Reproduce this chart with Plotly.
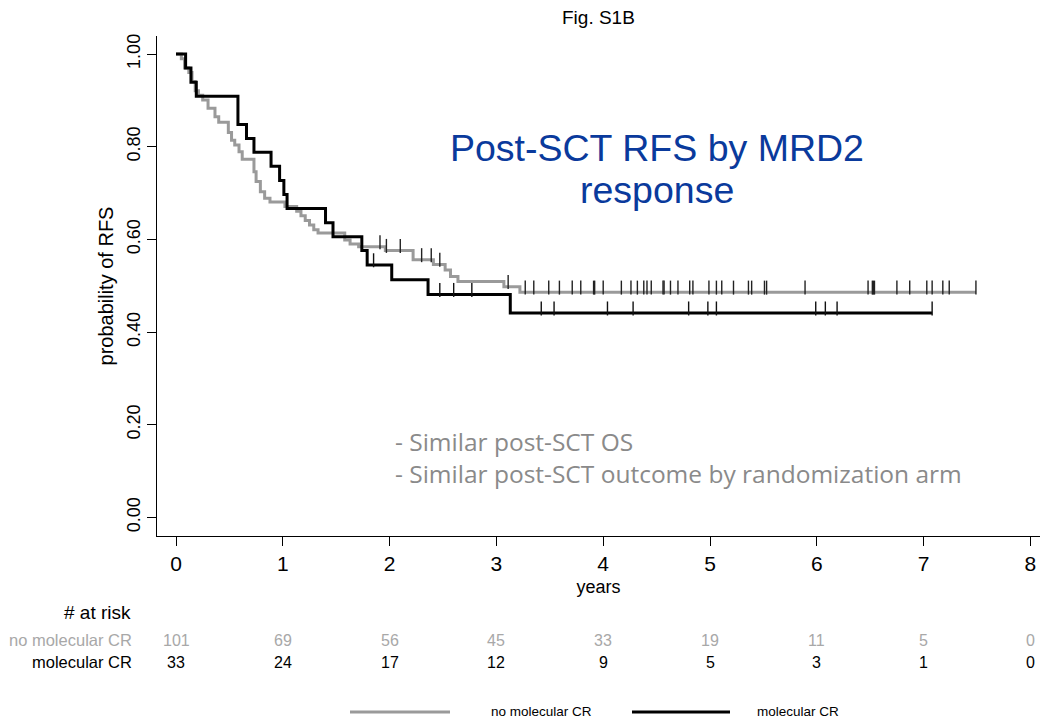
import bisect
import plotly.graph_objects as go

# ---------------- data ----------------
year_ticks = [0, 1, 2, 3, 4, 5, 6, 7, 8]
prob_ticks = [0.0, 0.2, 0.4, 0.6, 0.8, 1.0]

risk_no_mcr = [101, 69, 56, 45, 33, 19, 11, 5, 0]
risk_mcr = [33, 24, 17, 12, 9, 5, 3, 1, 0]

# no molecular CR (grey) : step times and survival after each step
gray_t = [0, 0.05, 0.08, 0.12, 0.15, 0.18, 0.21, 0.25, 0.30, 0.365, 0.40, 0.49, 0.52,
          0.55, 0.59, 0.62, 0.73, 0.75, 0.79, 0.83, 0.88, 1.02, 1.13, 1.17, 1.21, 1.25,
          1.29, 1.33, 1.58, 1.63, 1.71, 1.96, 2.22, 2.41, 2.52, 2.57, 2.64, 3.07, 3.22, 7.49]
gray_s = [1.0, 0.990, 0.970, 0.960, 0.941, 0.921, 0.911, 0.901, 0.883, 0.865, 0.853, 0.831,
          0.814, 0.804, 0.789, 0.773, 0.746, 0.725, 0.703, 0.689, 0.681, 0.671, 0.661, 0.651,
          0.641, 0.631, 0.621, 0.614, 0.599, 0.590, 0.584, 0.576, 0.556, 0.546, 0.534, 0.520,
          0.509, 0.498, 0.486, 0.486]
gray_cens = [1.91, 1.97, 2.10, 2.30, 2.39, 2.47, 3.11, 3.27, 3.35, 3.49, 3.59, 3.71, 3.79,
             3.91, 3.92, 4.00, 4.17, 4.26, 4.32, 4.38, 4.41, 4.45, 4.56, 4.57, 4.63, 4.70,
             4.81, 4.84, 4.99, 5.06, 5.11, 5.22, 5.36, 5.39, 5.51, 5.53, 5.89, 6.48, 6.52,
             6.53, 6.54, 6.75, 6.87, 7.03, 7.08, 7.18, 7.24, 7.49]

# molecular CR (black)
black_t = [0, 0.09, 0.14, 0.19, 0.58, 0.66, 0.73, 0.89, 0.97, 1.01, 1.04, 1.40, 1.47,
           1.74, 1.79, 2.02, 2.36, 3.13, 7.08]
black_s = [1.0, 0.970, 0.939, 0.909, 0.848, 0.818, 0.788, 0.758, 0.727, 0.697, 0.667,
           0.636, 0.606, 0.576, 0.545, 0.513, 0.481, 0.441, 0.441]
black_cens = [1.85, 2.47, 2.60, 2.77, 3.42, 3.54, 4.04, 4.28, 4.80, 4.98, 5.06, 5.99,
              6.08, 6.19, 7.08]

headline = ["Post-SCT RFS by MRD2", "response"]
notes = ["- Similar post-SCT OS", "- Similar post-SCT outcome by randomization arm"]

# ---------------- styling / layout constants ----------------
W, H = 1040, 723
ML, MR, MT, MB = 157, 0, 36, 187
PW, PH = W - ML - MR, H - MT - MB
GRAY = "#9a9a9a"
BLACK = "#000000"
SANS = "Liberation Sans, Arial, Helvetica, sans-serif"
NOTE_FONT = "Open Sans, Noto Sans, sans-serif"
TICK_LIFT = 0.010


def px_x(p):
    return (p - ML) / PW


def px_y(p):
    return (H - MB - p) / PH


def level_at(ts, ss, c):
    i = bisect.bisect_right(ts, c) - 1
    return ss[max(i, 0)]


fig = go.Figure()

fig.add_trace(go.Scatter(x=gray_t, y=gray_s, mode="lines", line=dict(color=GRAY, width=3, shape="hv"),
                         showlegend=False, hoverinfo="skip"))
fig.add_trace(go.Scatter(x=gray_cens, y=[level_at(gray_t, gray_s, c) + TICK_LIFT for c in gray_cens],
                         mode="markers", marker=dict(symbol="line-ns", size=10,
                                                     line=dict(color="#222222", width=1.4)),
                         showlegend=False, hoverinfo="skip"))
fig.add_trace(go.Scatter(x=black_t, y=black_s, mode="lines", line=dict(color=BLACK, width=3, shape="hv"),
                         showlegend=False, hoverinfo="skip"))
fig.add_trace(go.Scatter(x=black_cens, y=[level_at(black_t, black_s, c) + TICK_LIFT for c in black_cens],
                         mode="markers", marker=dict(symbol="line-ns", size=10,
                                                     line=dict(color="#111111", width=1.4)),
                         showlegend=False, hoverinfo="skip"))

annotations = []
# title
annotations.append(dict(text="Fig. S1B", x=px_x(598), y=px_y(18), xref="paper", yref="paper",
                        showarrow=False, font=dict(family=SANS, size=19, color="#000"),
                        xanchor="center", yanchor="middle"))
# blue headline
for txt, yy in zip(headline, [148, 190]):
    annotations.append(dict(text=txt, x=px_x(657), y=px_y(yy), xref="paper", yref="paper",
                            showarrow=False, font=dict(family=SANS, size=37.5, color="#0a3a9c"),
                            xanchor="center", yanchor="middle"))
# grey notes
for txt, yy in zip(notes, [441, 473]):
    annotations.append(dict(text=txt, x=px_x(393), y=px_y(yy), xref="paper", yref="paper",
                            showarrow=False, font=dict(family=NOTE_FONT, size=24.5, color="#8a8a8a"),
                            xanchor="left", yanchor="middle"))
# risk table
annotations.append(dict(text="# at risk", x=px_x(133), y=px_y(612), xref="paper", yref="paper",
                        showarrow=False, font=dict(family=SANS, size=19, color="#000"),
                        xanchor="right", yanchor="middle"))
annotations.append(dict(text="no molecular CR", x=px_x(134), y=px_y(640), xref="paper", yref="paper",
                        showarrow=False, font=dict(family=SANS, size=16.5, color="#a8a8a8"),
                        xanchor="right", yanchor="middle"))
annotations.append(dict(text="molecular CR", x=px_x(134), y=px_y(662), xref="paper", yref="paper",
                        showarrow=False, font=dict(family=SANS, size=16.5, color="#000"),
                        xanchor="right", yanchor="middle"))
for t, a, b in zip(year_ticks, risk_no_mcr, risk_mcr):
    annotations.append(dict(text=str(a), x=t, y=px_y(640), xref="x", yref="paper", showarrow=False,
                            font=dict(family=SANS, size=16, color="#a8a8a8"),
                            xanchor="center", yanchor="middle"))
    annotations.append(dict(text=str(b), x=t, y=px_y(662), xref="x", yref="paper", showarrow=False,
                            font=dict(family=SANS, size=16, color="#000"),
                            xanchor="center", yanchor="middle"))
# legend
annotations.append(dict(text="no molecular CR", x=px_x(489), y=px_y(712), xref="paper", yref="paper",
                        showarrow=False, font=dict(family=SANS, size=13.5, color="#000"),
                        xanchor="left", yanchor="middle"))
annotations.append(dict(text="molecular CR", x=px_x(755), y=px_y(712), xref="paper", yref="paper",
                        showarrow=False, font=dict(family=SANS, size=13.5, color="#000"),
                        xanchor="left", yanchor="middle"))

shapes = [
    dict(type="line", xref="paper", yref="paper", x0=px_x(350), x1=px_x(450), y0=px_y(712), y1=px_y(712),
         line=dict(color=GRAY, width=3)),
    dict(type="line", xref="paper", yref="paper", x0=px_x(632), x1=px_x(730), y0=px_y(712), y1=px_y(712),
         line=dict(color=BLACK, width=3)),
]

fig.update_layout(
    width=W, height=H,
    margin=dict(l=ML, r=MR, t=MT, b=MB, pad=0),
    paper_bgcolor="white", plot_bgcolor="white",
    annotations=annotations, shapes=shapes,
    xaxis=dict(range=[(ML - 176) / 106.8, (W - 176) / 106.8], tickvals=year_ticks,
               ticktext=[str(v) for v in year_ticks], showgrid=False, zeroline=False,
               showline=True, linecolor="#000", linewidth=1.3, ticks="outside", ticklen=9,
               tickwidth=1.2, tickcolor="#000",
               tickfont=dict(family=SANS, size=21, color="#000"),
               title=dict(text="years", font=dict(family=SANS, size=18, color="#000"), standoff=6)),
    yaxis=dict(range=[-0.040, 1.039], tickvals=prob_ticks,
               ticktext=["%.2f" % v for v in prob_ticks], showgrid=False, zeroline=False,
               showline=True, linecolor="#000", linewidth=1.3, ticks="outside", ticklen=9,
               tickwidth=1.2, tickcolor="#000", tickangle=-90,
               tickfont=dict(family=SANS, size=18, color="#000"),
               title=dict(text="probability of RFS", font=dict(family=SANS, size=20, color="#000"),
                          standoff=4)),
)

fig.write_html("out.html")
